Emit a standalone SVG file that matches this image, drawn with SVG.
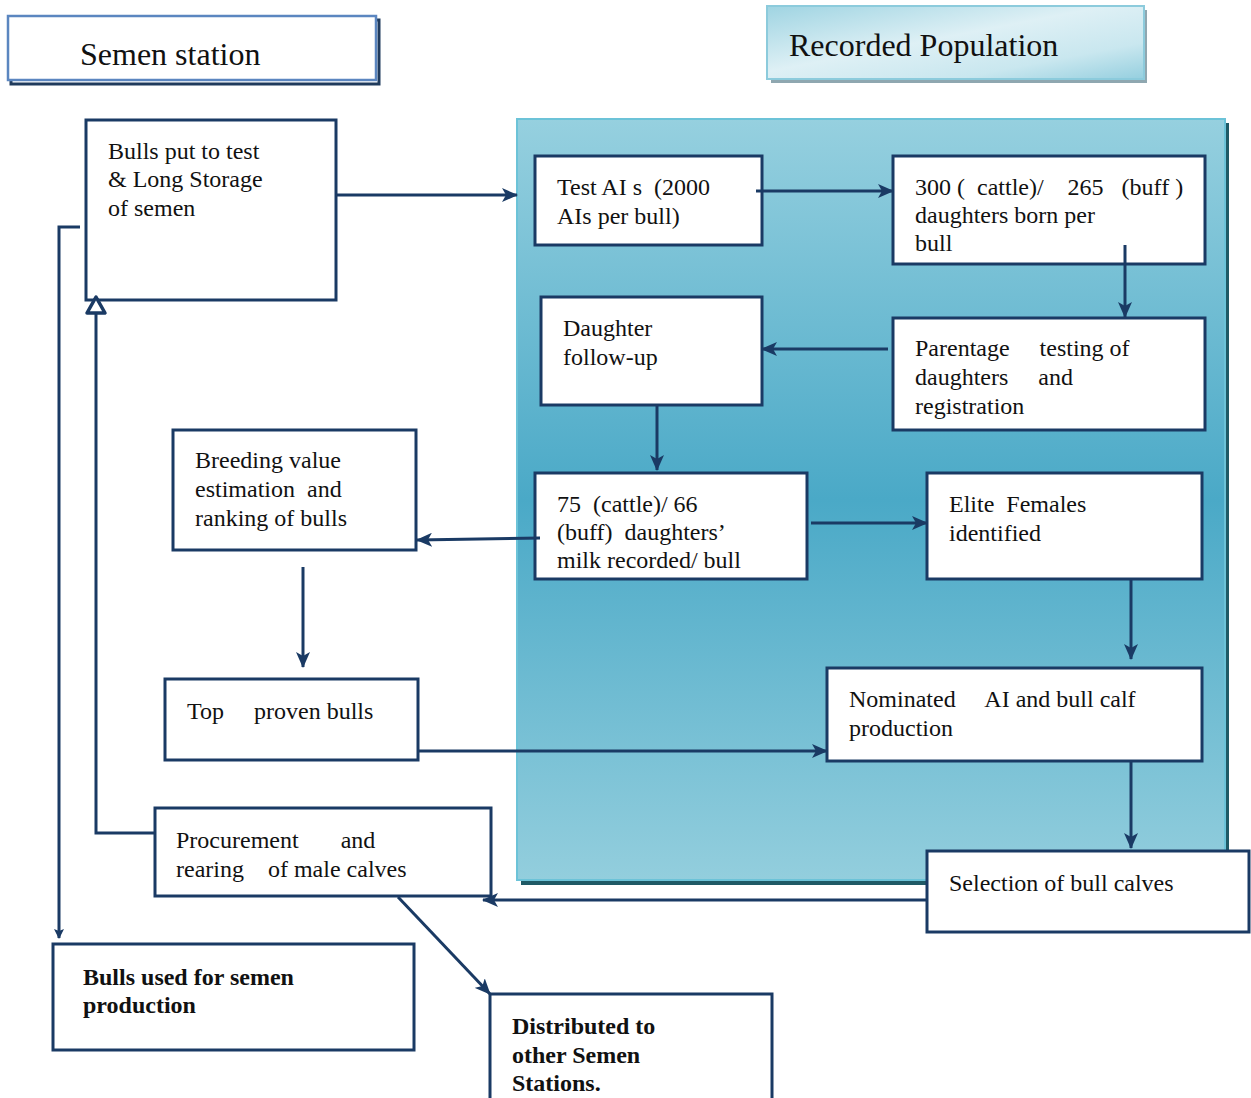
<svg xmlns="http://www.w3.org/2000/svg" width="1251" height="1098" viewBox="0 0 1251 1098">
<defs>
<linearGradient id="panelG" x1="0" y1="0" x2="0" y2="1">
<stop offset="0" stop-color="#96d0df"/>
<stop offset="0.5" stop-color="#4aa9c7"/>
<stop offset="1" stop-color="#93cedd"/>
</linearGradient>
<linearGradient id="hdrG" x1="0" y1="0" x2="1" y2="1">
<stop offset="0" stop-color="#9fd4e2"/>
<stop offset="0.45" stop-color="#def0f5"/>
<stop offset="0.75" stop-color="#c9e7ef"/>
<stop offset="1" stop-color="#95cfdf"/>
</linearGradient>
<marker id="arr" markerUnits="userSpaceOnUse" markerWidth="16" markerHeight="14" refX="15" refY="7" orient="auto">
<path d="M0,0 L16,7 L0,14 L4,7 Z" fill="#1a3a64"/>
</marker>
<marker id="arrS" markerUnits="userSpaceOnUse" markerWidth="10" markerHeight="14" refX="9" refY="5" orient="auto">
<path d="M0,0 L10,5 L0,10 L2,5 Z" fill="#1a3a64"/>
</marker>
</defs>
<style>
.box{fill:#fff;stroke:#1a3a64;stroke-width:3}
.t{font-family:"Liberation Serif","Times New Roman",serif;font-size:24px;fill:#111}
.b{font-family:"Liberation Serif","Times New Roman",serif;font-size:24px;font-weight:bold;fill:#111}
.c{fill:none;stroke:#1a3a64;stroke-width:3}
</style>
<rect width="1251" height="1098" fill="#fff"/>

<g id="panel">
<rect x="521" y="123" width="708" height="762" fill="#1f5a66"/>
<rect x="517" y="119" width="708" height="761" fill="url(#panelG)" stroke="#6cc3d8" stroke-width="2"/>
</g>

<g id="semen-station">
<rect x="11" y="20" width="368" height="64" fill="none" stroke="#1f3a5c" stroke-width="3"/>
<rect x="8" y="16" width="368" height="64" fill="#fff" stroke="#5b86c0" stroke-width="2.5"/>
<text class="t" x="80" y="65" style="font-size:32px">Semen station</text>
</g>

<g id="recorded-population">
<rect x="771" y="10" width="376" height="73" fill="#8fa7b0"/>
<rect x="767" y="6" width="377" height="73" fill="url(#hdrG)" stroke="#8ccbdc" stroke-width="2"/>
<text class="t" x="789" y="56" style="font-size:32px">Recorded Population</text>
</g>

<g id="bulls-test">
<rect class="box" x="86" y="120" width="250" height="180"/>
<text class="t" x="108" y="159">Bulls put to test</text>
<text class="t" x="108" y="187">&amp; Long Storage</text>
<text class="t" x="108" y="216">of semen</text>
</g>

<g id="test-ai">
<rect class="box" x="535" y="156" width="227" height="89"/>
<text class="t" x="557" y="195" xml:space="preserve">Test AI s  (2000</text>
<text class="t" x="557" y="224">AIs per bull)</text>
</g>

<g id="daughters-born">
<rect class="box" x="893" y="156" width="312" height="108"/>
<text class="t" x="915" y="195" xml:space="preserve">300 (  cattle)/    265   (buff )</text>
<text class="t" x="915" y="223">daughters born per</text>
<text class="t" x="915" y="251">bull</text>
</g>

<g id="daughter-followup">
<rect class="box" x="541" y="297" width="221" height="108"/>
<text class="t" x="563" y="336">Daughter</text>
<text class="t" x="563" y="365">follow-up</text>
</g>

<g id="parentage">
<rect class="box" x="893" y="318" width="312" height="112"/>
<text class="t" x="915" y="356" xml:space="preserve">Parentage     testing of</text>
<text class="t" x="915" y="385" xml:space="preserve">daughters     and</text>
<text class="t" x="915" y="414">registration</text>
</g>

<g id="breeding-value">
<rect class="box" x="173" y="430" width="243" height="120"/>
<text class="t" x="195" y="468">Breeding value</text>
<text class="t" x="195" y="497" xml:space="preserve">estimation  and</text>
<text class="t" x="195" y="526">ranking of bulls</text>
</g>

<g id="milk-recorded">
<rect class="box" x="535" y="473" width="272" height="106"/>
<text class="t" x="557" y="512" xml:space="preserve">75  (cattle)/ 66</text>
<text class="t" x="557" y="540" xml:space="preserve">(buff)  daughters’</text>
<text class="t" x="557" y="568">milk recorded/ bull</text>
</g>

<g id="elite-females">
<rect class="box" x="927" y="473" width="275" height="106"/>
<text class="t" x="949" y="512" xml:space="preserve">Elite  Females</text>
<text class="t" x="949" y="541">identified</text>
</g>

<g id="top-proven">
<rect class="box" x="165" y="679" width="253" height="81"/>
<text class="t" x="187" y="719" xml:space="preserve">Top     proven bulls</text>
</g>

<g id="nominated">
<rect class="box" x="827" y="668" width="375" height="93"/>
<text class="t" x="849" y="707" xml:space="preserve">Nominated     AI and bull calf</text>
<text class="t" x="849" y="736">production</text>
</g>

<g id="procurement">
<rect class="box" x="155" y="808" width="336" height="88"/>
<text class="t" x="176" y="848" xml:space="preserve">Procurement       and</text>
<text class="t" x="176" y="877" xml:space="preserve">rearing    of male calves</text>
</g>

<g id="selection">
<rect class="box" x="927" y="851" width="322" height="81"/>
<text class="t" x="949" y="891">Selection of bull calves</text>
</g>

<g id="bulls-used">
<rect class="box" x="53" y="944" width="361" height="106"/>
<text class="b" x="83" y="985">Bulls used for semen</text>
<text class="b" x="83" y="1013">production</text>
</g>

<g id="distributed">
<rect class="box" x="490" y="994" width="282" height="110"/>
<text class="b" x="512" y="1034">Distributed to</text>
<text class="b" x="512" y="1063">other Semen</text>
<text class="b" x="512" y="1091">Stations.</text>
</g>

<g id="connectors">
<line class="c" x1="336" y1="195" x2="517" y2="195" marker-end="url(#arr)"/>
<line class="c" x1="756" y1="191" x2="893" y2="191" marker-end="url(#arr)"/>
<line class="c" x1="1125" y1="245" x2="1125" y2="317" marker-end="url(#arr)"/>
<line class="c" x1="888" y1="349" x2="762" y2="349" marker-end="url(#arr)"/>
<line class="c" x1="657" y1="405" x2="657" y2="470" marker-end="url(#arr)"/>
<line class="c" x1="540" y1="538" x2="417" y2="540" marker-end="url(#arr)"/>
<line class="c" x1="811" y1="523" x2="927" y2="523" marker-end="url(#arr)"/>
<line class="c" x1="1131" y1="579" x2="1131" y2="659" marker-end="url(#arr)"/>
<line class="c" x1="303" y1="567" x2="303" y2="667" marker-end="url(#arr)"/>
<line class="c" x1="418" y1="751" x2="827" y2="751" marker-end="url(#arr)"/>
<line class="c" x1="1131" y1="761" x2="1131" y2="848" marker-end="url(#arr)"/>
<line class="c" x1="927" y1="900" x2="483" y2="900" marker-end="url(#arr)"/>
<line class="c" x1="398" y1="897" x2="490" y2="994" marker-end="url(#arr)"/>
<polyline class="c" points="155,833 96,833 96,313"/>
<path d="M96,297 L105,313 L87,313 Z" fill="#fff" stroke="#1a3a64" stroke-width="3.5" stroke-linejoin="round"/>
<polyline class="c" points="80,227 59,227 59,938" marker-end="url(#arrS)"/>
</g>
</svg>
